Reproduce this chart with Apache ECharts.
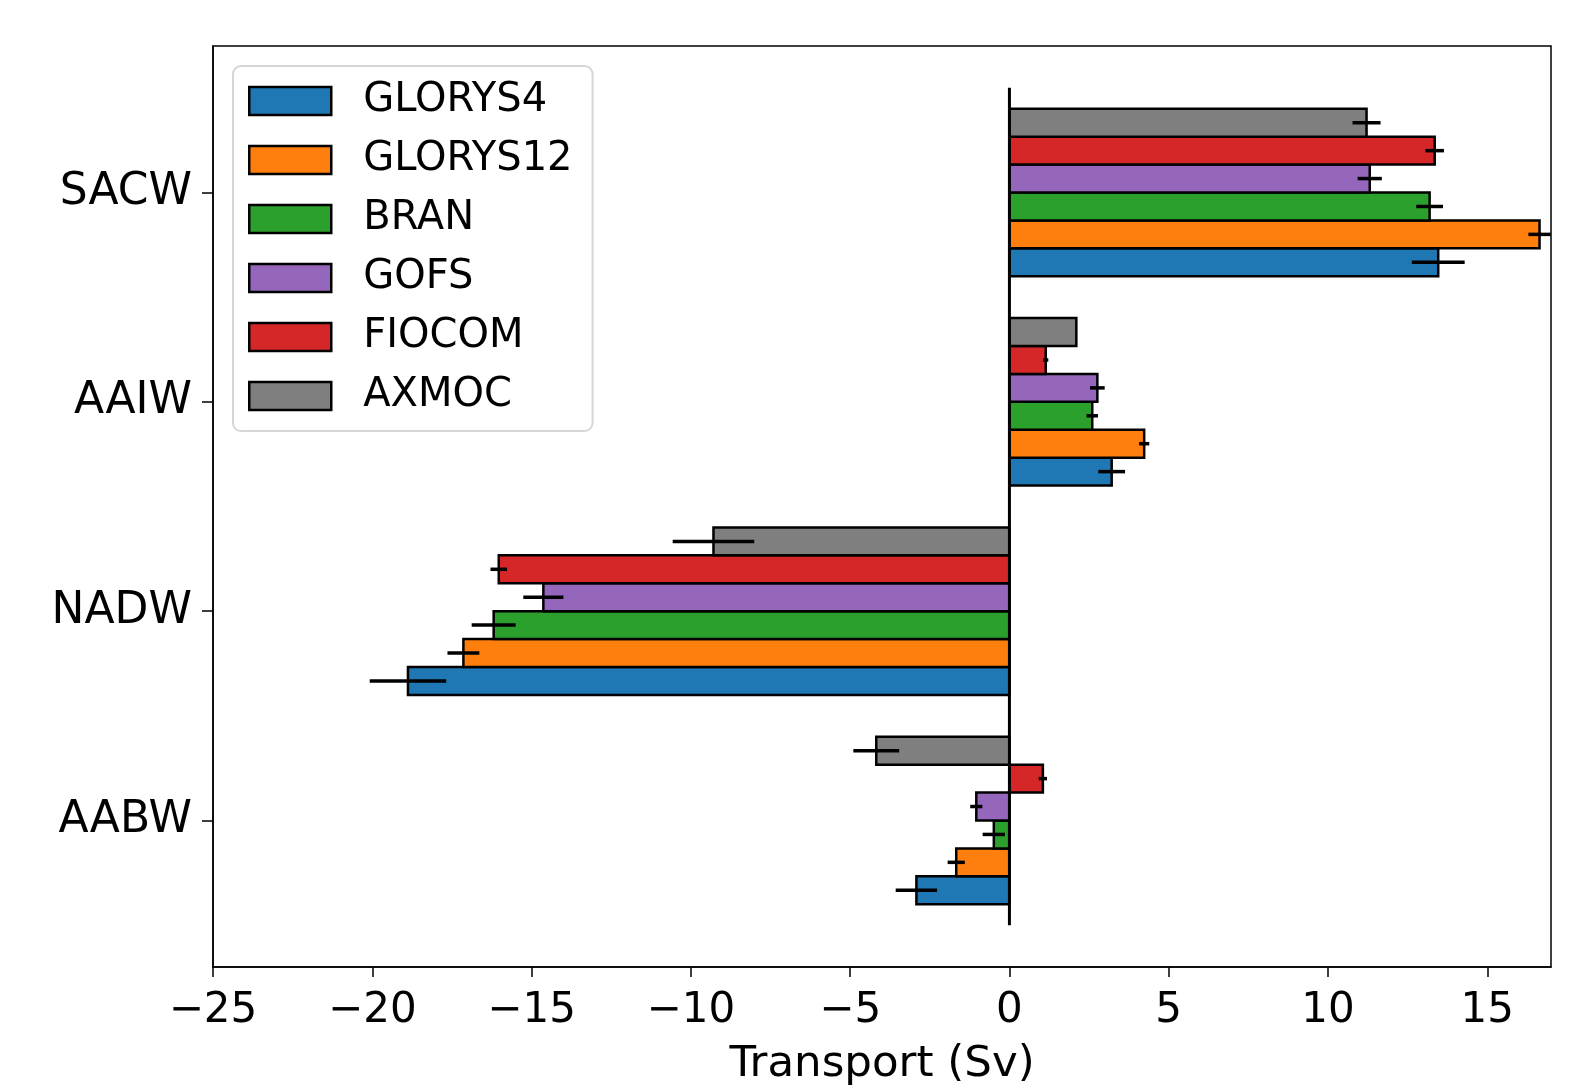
<!DOCTYPE html>
<html>
<head>
<meta charset="utf-8">
<script src="https://cdn.jsdelivr.net/npm/echarts@6/dist/echarts.min.js"></script>
<style>
html,body{margin:0;padding:0;background:#fff;}
#chart{width:1572px;height:1092px;}
</style>
</head>
<body>
<div id="chart"></div>
<script>
// Categories (top to bottom) and their positions on the value y-axis
const categories = ['SACW', 'AAIW', 'NADW', 'AABW'];
const categoryPos = [3, 2, 1, 0];
const models = ['GLORYS4', 'GLORYS12', 'BRAN', 'GOFS', 'FIOCOM', 'AXMOC'];
const colors = ['#1f77b4', '#ff7f0e', '#2ca02c', '#9467bd', '#d62728', '#7f7f7f'];

// Transport values (Sv) per category: SACW, AAIW, NADW, AABW
const glorys4 = [13.46, 3.21, -18.88, -2.92];
const glorys12 = [16.64, 4.23, -17.14, -1.67];
const bran = [13.19, 2.60, -16.19, -0.49];
const gofs = [11.31, 2.76, -14.63, -1.04];
const fiocom = [13.35, 1.14, -16.03, 1.05];
const axmoc = [11.21, 2.10, -9.29, -4.18];

// Error bar half-widths (Sv)
const glorys4Err = [0.83, 0.42, 1.20, 0.65];
const glorys12Err = [0.35, 0.16, 0.50, 0.27];
const branErr = [0.42, 0.18, 0.69, 0.35];
const gofsErr = [0.38, 0.23, 0.63, 0.19];
const fiocomErr = [0.29, 0.08, 0.26, 0.13];
const axmocErr = [0.44, 0.0, 1.28, 0.72];

const xTicks = [-25, -20, -15, -10, -5, 0, 5, 10, 15];

const values = [glorys4, glorys12, bran, gofs, fiocom, axmoc];
const errors = [glorys4Err, glorys12Err, branErr, gofsErr, fiocomErr, axmocErr];

const barW = 0.8 / models.length;
const FONT = 'DejaVu Sans';

function makeRender(i) {
  return function (params, api) {
    const v = api.value(0), c = api.value(1), e = api.value(2);
    const yc = c - 0.4 + barW * (i + 0.5);
    const p0 = api.coord([0, yc]);
    const p1 = api.coord([v, yc]);
    const h = api.size([0, barW])[1];
    const children = [{
      type: 'rect',
      shape: { x: Math.min(p0[0], p1[0]), y: p0[1] - h / 2, width: Math.abs(p1[0] - p0[0]), height: h },
      style: { fill: colors[i], stroke: '#000', lineWidth: 2.5 }
    }];
    if (e > 0) {
      const a = api.coord([v - e, yc]);
      const b = api.coord([v + e, yc]);
      children.push({
        type: 'line',
        shape: { x1: a[0], y1: a[1], x2: b[0], y2: b[1] },
        style: { stroke: '#000', lineWidth: 3.5 }
      });
    }
    return { type: 'group', children: children };
  };
}

const series = models.map(function (name, i) {
  return {
    name: name,
    type: 'custom',
    itemStyle: { color: colors[i] },
    renderItem: makeRender(i),
    encode: { x: 0, y: 1 },
    data: values[i].map(function (v, j) { return [v, categoryPos[j], errors[i][j]]; }),
    z: 2
  };
});

series.push({
  name: 'zero',
  type: 'custom',
  z: 5,
  silent: true,
  renderItem: function (params, api) {
    const a = api.coord([api.value(0), api.value(1)]);
    const b = api.coord([api.value(0), api.value(2)]);
    return {
      type: 'line',
      shape: { x1: a[0], y1: a[1], x2: b[0], y2: b[1] },
      style: { stroke: '#000', lineWidth: 3 }
    };
  },
  encode: { x: 0, y: [1, 2] },
  data: [[0, -0.5, 3.5]]
});

const chart = echarts.init(document.getElementById('chart'), null, { renderer: 'canvas' });
chart.setOption({
  animation: false,
  backgroundColor: '#fff',
  textStyle: { fontFamily: FONT },
  grid: {
    left: 213, right: 21, top: 46, bottom: 115,
    show: true, borderColor: '#000', borderWidth: 1.5, backgroundColor: 'transparent'
  },
  legend: {
    data: models,
    orient: 'vertical',
    left: 233, top: 66,
    padding: [13, 20, 13, 15],
    itemWidth: 82, itemHeight: 28, itemGap: 15,
    icon: 'rect',
    itemStyle: { borderColor: '#000', borderWidth: 2.5 },
    backgroundColor: 'rgba(255,255,255,0.85)',
    borderColor: '#d6d6d6', borderWidth: 2, borderRadius: 8,
    textStyle: { fontFamily: FONT, fontSize: 40, color: '#000', lineHeight: 44, padding: [0, 0, 0, 27] }
  },
  xAxis: {
    type: 'value',
    min: -25, max: 17,
    name: 'Transport (Sv)',
    nameLocation: 'middle',
    nameGap: 76,
    nameTextStyle: { fontFamily: FONT, fontSize: 43.5, color: '#000' },
    splitLine: { show: false },
    axisLine: { show: true, onZero: false, lineStyle: { color: '#000', width: 1.5 } },
    axisTick: { show: true, inside: false, length: 10, customValues: xTicks, lineStyle: { color: '#000', width: 1.5 } },
    axisLabel: {
      customValues: xTicks,
      margin: 23,
      fontFamily: FONT, fontSize: 42, color: '#000',
      formatter: function (v) { return String(v).replace('-', '\u2212'); }
    }
  },
  yAxis: {
    type: 'value',
    min: -0.70, max: 3.70,
    splitLine: { show: false },
    axisLine: { show: true, onZero: false, lineStyle: { color: '#000', width: 1.5 } },
    axisTick: { show: true, inside: false, length: 11, customValues: categoryPos, lineStyle: { color: '#000', width: 1.5 } },
    axisLabel: {
      customValues: categoryPos,
      margin: 21,
      fontFamily: FONT, fontSize: 44, color: '#000',
      formatter: function (v) {
        const idx = categoryPos.indexOf(Math.round(v));
        return idx >= 0 ? categories[idx] : '';
      }
    }
  },
  series: series
});
</script>
</body>
</html>
